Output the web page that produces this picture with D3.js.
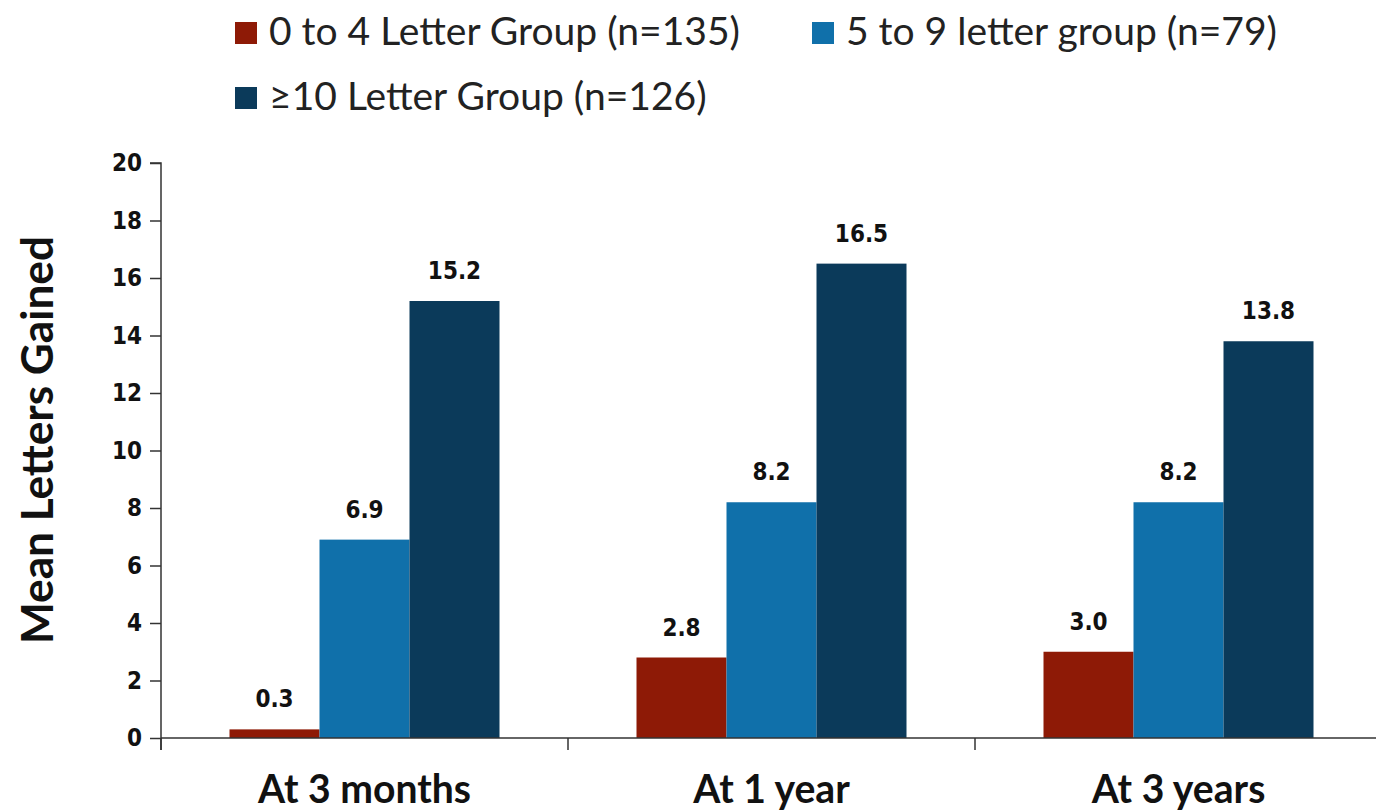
<!DOCTYPE html>
<html><head><meta charset="utf-8">
<script src="https://cdn.jsdelivr.net/npm/d3@7"></script>
<style>body{margin:0;background:#fff}svg{display:block}</style>
</head><body>
<script>
const categories = ["At 3 months", "At 1 year", "At 3 years"];
const seriesNames = ["0 to 4 Letter Group (n=135)", "5 to 9 letter group (n=79)", "\u226510 Letter Group (n=126)"];
const series0 = [0.3, 2.8, 3.0];
const series1 = [6.9, 8.2, 8.2];
const series2 = [15.2, 16.5, 13.8];
const yTicks = [0, 2, 4, 6, 8, 10, 12, 14, 16, 18, 20];
const colors = ["#8e1a06", "#1070aa", "#0b3a5a"];
const allSeries = [series0, series1, series2];

const W = 1376, H = 812;
const svg = d3.select("body").append("svg").attr("width", W).attr("height", H);
const x0 = 161, x1 = 1382, yTop = 163, yBot = 738;
const x = d3.scaleBand().domain(categories).range([x0, x1]).paddingInner(0).paddingOuter(0);
const xs = d3.scaleBand().domain([0,1,2]).range([0, 270]);
const y = d3.scaleLinear().domain([0, 20]).range([yBot, yTop]);

function fit(sel, target) {
  const n = sel.node();
  const fs = parseFloat(sel.attr("font-size"));
  const w = n.getComputedTextLength();
  if (w > 0) sel.attr("font-size", (fs * target / w).toFixed(2));
}

// bars
categories.forEach((c, i) => {
  const gx = x(c) + (x.bandwidth() - 270) / 2;
  allSeries.forEach((s, k) => {
    svg.append("rect").attr("x", gx + xs(k)).attr("width", xs.bandwidth())
      .attr("y", y(s[i])).attr("height", yBot - y(s[i])).attr("fill", colors[k]);
    svg.append("text").attr("x", gx + xs(k) + xs.bandwidth()/2).attr("y", y(s[i]) - 22)
      .attr("text-anchor", "middle").attr("font-family", "DejaVu Sans Condensed").attr("font-weight", "bold")
      .attr("font-size", 24).attr("fill", "#111").text(s[i].toFixed(1));
  });
});

// y axis
const yAxis = d3.axisLeft(y).tickValues(yTicks).tickSize(11).tickPadding(8);
const gy = svg.append("g").attr("transform", `translate(${x0},0)`).call(yAxis);
gy.select(".domain").attr("stroke", "#333").attr("stroke-width", 1.5).attr("d", `M-11,${yTop}H0V${yBot+12}`);
gy.selectAll(".tick line").attr("stroke", "#333").attr("stroke-width", 1.5);
gy.selectAll(".tick text").attr("font-family", "DejaVu Sans Condensed").attr("font-weight", "bold")
  .attr("font-size", 24).attr("fill", "#111");

// x axis
const xAxis = d3.axisBottom(x).tickSize(0).tickFormat("");
const gx = svg.append("g").attr("transform", `translate(0,${yBot})`).call(xAxis);
gx.select(".domain").attr("stroke", "#333").attr("stroke-width", 1.5).attr("d", `M${x0},0H${W}`);
gx.selectAll(".tick").remove();
const bounds = categories.map(c => x(c) + x.bandwidth()).concat([x0]);
svg.selectAll(".bt").data(bounds).enter().append("line")
  .attr("x1", d => d).attr("x2", d => d).attr("y1", yBot).attr("y2", yBot + 12)
  .attr("stroke", "#333").attr("stroke-width", 1.5);
const catLabels = svg.selectAll(".cl").data(categories).enter().append("text")
  .attr("x", d => x(d) + x.bandwidth()/2).attr("y", 803).attr("text-anchor", "middle")
  .attr("font-family", "Lato").attr("font-weight", "bold").attr("font-size", 34)
  .attr("fill", "#111").text(d => d);
fit(d3.select(catLabels.nodes()[0]), 213);
catLabels.attr("font-size", d3.select(catLabels.nodes()[0]).attr("font-size"));

// y title
const yt = svg.append("text").attr("transform", "translate(53,440) rotate(-90)").attr("text-anchor", "middle")
  .attr("font-family", "Lato").attr("font-weight", "bold").attr("font-size", 36)
  .attr("fill", "#111").text("Mean Letters Gained");
fit(yt, 408);

// legend
const leg = [{x: 235, y: 33, w: 471}, {x: 812, y: 33, w: 433}, {x: 235, y: 98, w: 433}];
leg.forEach((p, k) => {
  svg.append("rect").attr("x", p.x).attr("y", p.y - 11).attr("width", 22).attr("height", 22).attr("fill", colors[k]);
  const t = svg.append("text").attr("x", p.x + 34).attr("y", p.y + 12).attr("font-family", "Lato")
    .attr("font-size", 38).attr("fill", "#222").text(seriesNames[k]);
  if (k === 0) fit(t, p.w);
});
const legFs = svg.selectAll("text").filter(function(){return this.textContent === seriesNames[0];}).attr("font-size");
svg.selectAll("text").filter(function(){return seriesNames.includes(this.textContent);}).attr("font-size", legFs);
</script>
</body></html>
